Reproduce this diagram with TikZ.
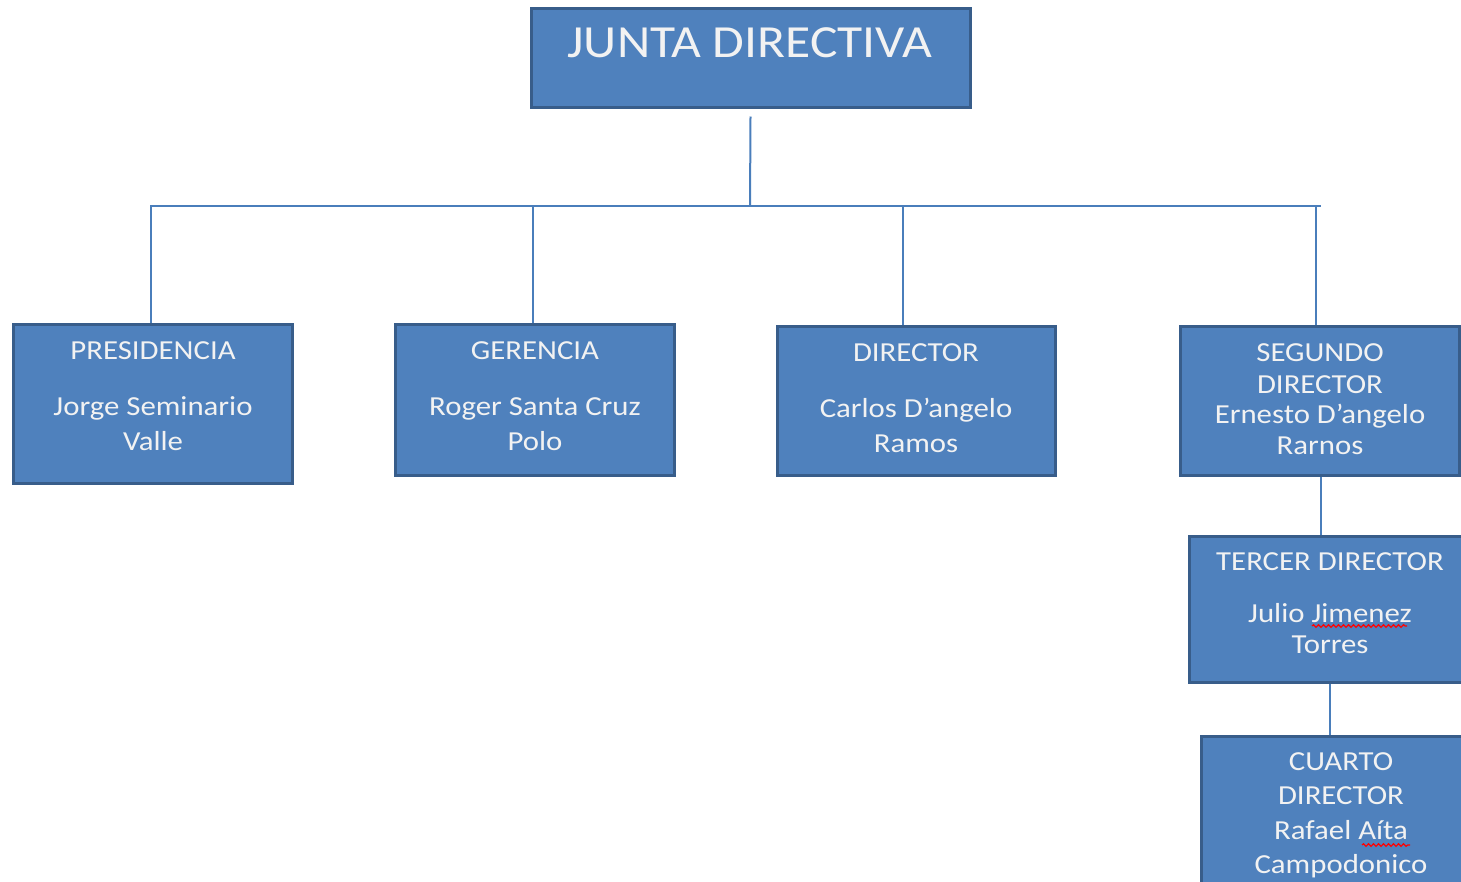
\documentclass[tikz,border=0pt]{standalone}
\usepackage{fontspec}
\setmainfont[FakeStretch=1.12]{Carlito}
\usetikzlibrary{decorations.pathmorphing}
\definecolor{boxfill}{HTML}{4F81BD}
\definecolor{boxline}{HTML}{385D8A}
\definecolor{connline}{HTML}{4A7EBB}
\definecolor{txtcol}{HTML}{F2F2F2}
\tikzset{
  orgbox/.style={draw=boxline, line width=3pt, fill=boxfill, inner sep=0pt},
  conn/.style={draw=connline, line width=2pt},
  txt/.style={anchor=base, text=txtcol, inner sep=0pt, font=\fontsize{27.5pt}{33pt}\selectfont},
  bigtxt/.style={anchor=base, text=txtcol, inner sep=0pt, font=\fontsize{46pt}{50pt}\selectfont},
  spell/.style={draw=red, line width=1.2pt, decorate, decoration={snake, amplitude=1.3pt, segment length=5pt}}
}
\begin{document}
\begin{tikzpicture}[x=1pt,y=-1pt]
\useasboundingbox (0,0) rectangle (1461,881);
% boxes
\node[orgbox, minimum width=439pt, minimum height=99pt] (junta) at (750.5,57.5) {};
\node[orgbox, minimum width=279pt, minimum height=159pt] (pres) at (152.5,403.5) {};
\node[orgbox, minimum width=279pt, minimum height=151pt] (ger) at (534.5,399.5) {};
\node[orgbox, minimum width=278pt, minimum height=149pt] (dir) at (916,400.5) {};
\node[orgbox, minimum width=279pt, minimum height=149pt] (seg) at (1319.5,400.5) {};
\node[orgbox, minimum width=282pt, minimum height=146pt] (ter) at (1330,609) {};
\node[orgbox, minimum width=280pt, minimum height=170pt] (cua) at (1341,821) {};
% connectors
\coordinate (bus) at (750,206);
\draw[conn] ([yshift=-8pt]junta.south) -- (bus);
\draw[conn] ([xshift=-1.5pt]pres.north) -- ([xshift=-1.5pt]pres.north |- bus) -- ([xshift=1pt]seg.north |- bus);
\draw[conn] ([xshift=-3.5pt]seg.north) -- ([xshift=-3.5pt]seg.north |- bus);
\draw[conn] ([xshift=-1.5pt]ger.north) -- ([xshift=-1.5pt]ger.north |- bus);
\draw[conn] ([xshift=-13pt]dir.north) -- ([xshift=-13pt]dir.north |- bus);
\draw[conn] ([xshift=1.5pt]seg.south) -- ([xshift=1.5pt]seg.south |- ter.north);
\draw[conn] (ter.south) -- (ter.south |- cua.north);
% texts
\node[bigtxt] (juntat) at (750,57) {JUNTA DIRECTIVA};
\node[txt] (pres1) at (153,359) {PRESIDENCIA};
\node[txt] (pres2) at (153,415) {Jorge Seminario};
\node[txt] (pres3) at (153,450) {Valle};
\node[txt] (ger1) at (535,359) {GERENCIA};
\node[txt] (ger2) at (535,415) {Roger Santa Cruz};
\node[txt] (ger3) at (535,450) {Polo};
\node[txt] (dir1) at (916,361) {DIRECTOR};
\node[txt] (dir2) at (916,417) {Carlos D’angelo};
\node[txt] (dir3) at (916,452) {Ramos};
\node[txt] (seg1) at (1320,361) {SEGUNDO};
\node[txt] (seg2) at (1320,393) {DIRECTOR};
\node[txt] (seg3) at (1320,423) {Ernesto D’angelo};
\node[txt] (seg4) at (1320,454) {Rarnos};
\node[txt] (ter1) at (1330,570) {TERCER DIRECTOR};
\node[txt] (ter2) at (1330,622) {Julio Jimenez};
\node[txt] (ter3) at (1330,653) {Torres};
\node[txt] (cua1) at (1341,770) {CUARTO};
\node[txt] (cua2) at (1341,804) {DIRECTOR};
\node[txt] (cua3) at (1341,839) {Rafael Aíta};
\node[txt] (cua4) at (1341,873) {Campodonico};
% spell-check marks
\draw[spell] (1312,626) -- (1407,626);
\draw[spell] (1362,845) -- (1410,845);
\end{tikzpicture}
\end{document}
